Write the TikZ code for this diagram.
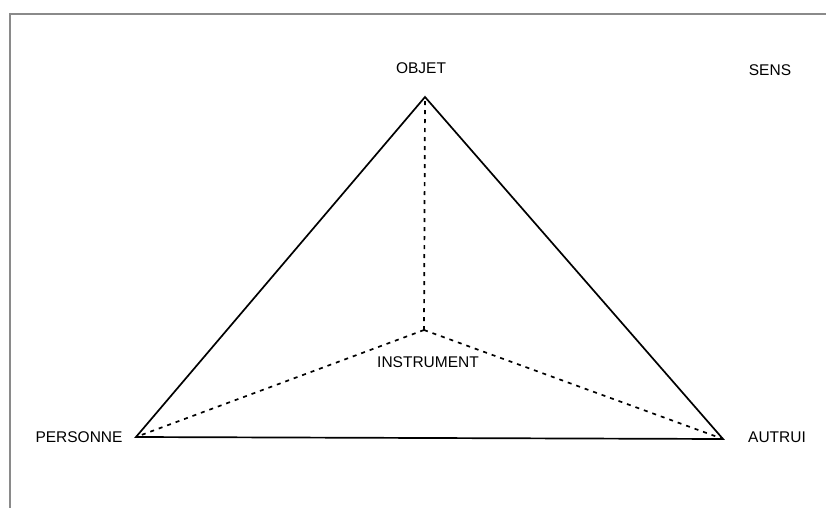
\documentclass[tikz,border=0pt]{standalone}
\usepackage{fontspec}
\setmainfont{Liberation Sans}
\usetikzlibrary{positioning,calc}
\definecolor{cadre}{RGB}{138,138,138}

\tikzset{
  lbl/.style={font=\fontsize{15.5}{18}\selectfont,inner sep=0pt},
  cote/.style={line width=1.7pt,line join=miter},
  axe/.style={line width=1.7pt,dash pattern=on 4pt off 5pt}
}

\begin{document}
\begin{tikzpicture}[x=1pt,y=-1pt]
  \useasboundingbox (0,0) rectangle (826,508);
  % cadre gris
  \draw[cadre,line width=2pt] (9,14) -- (826,14);
  \draw[cadre,line width=2pt] (10,13) -- (10,508);

  % sommets
  \coordinate (objet) at (425,97);
  \coordinate (personne) at (136,437);
  \coordinate (autrui) at (723,439);
  \coordinate (instrument) at (424,330);

  % triangle
  \draw[cote] (objet) -- (personne) -- (autrui) -- cycle;
  \draw[axe] (instrument) -- (objet);
  \draw[axe] (instrument) -- (personne);
  \draw[axe] (instrument) -- (autrui);

  % textes
  \node[lbl] (tobjet) at (421,68) {OBJET};
  \node[lbl] (tsens) at (770,70) {SENS};
  \node[lbl] (tinstr) at (428,362) {INSTRUMENT};
  \node[lbl] (tpers) at (79,437) {PERSONNE};
  \node[lbl] (tautrui) at (777,437) {AUTRUI};
\end{tikzpicture}
\end{document}
